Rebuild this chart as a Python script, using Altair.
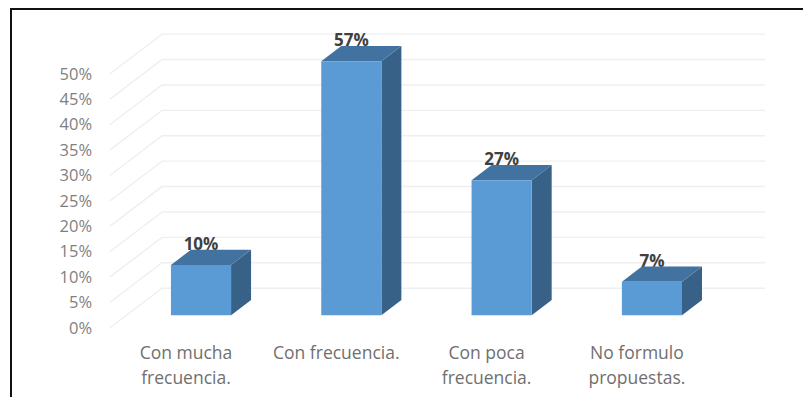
import altair as alt
import pandas as pd

categories = ["Con mucha\nfrecuencia.", "Con frecuencia.", "Con poca\nfrecuencia.", "No formulo\npropuestas."]
values = [9.9, 57.4, 26.6, 6.6]
labels = ["10%", "57%", "27%", "7%"]
ticks = [0, 5, 10, 15, 20, 25, 30, 35, 40, 45, 50]

AXIS_MAX = 50
BAR_W = 0.4
DX = 0.133
DY = 3.01
BASE = 2.44
FONT = "Open Sans"

xs = alt.Scale(domain=[-1.284, 4.005], nice=False, zero=False)
ys = alt.Scale(domain=[-13.64, 62.93], nice=False, zero=False)
X = lambda f="x": alt.X(f"{f}:Q", scale=xs, axis=None)
Y = lambda f="y": alt.Y(f"{f}:Q", scale=ys, axis=None)

grid_rows, top_rows, side_rows, front_rows, lab_rows, cat_rows = [], [], [], [], [], []
for t in ticks:
    grid_rows += [dict(t=t, x=-0.605, y=t), dict(t=t, x=-0.259, y=t + 7.78), dict(t=t, x=3.752, y=t + 7.78)]
for i, (c, v, l) in enumerate(zip(categories, values, labels)):
    h = min(v, AXIS_MAX)
    a, b = i - BAR_W / 2, i + BAR_W / 2
    front_rows.append(dict(x=a, x2=b, y=BASE, y2=BASE + h))
    top = BASE + h
    top_rows += [
        dict(i=i, x=a, y=top, y2=top),
        dict(i=i, x=a + DX, y=top + DY, y2=top),
        dict(i=i, x=b, y=top + DY, y2=top),
        dict(i=i, x=b + DX, y=top + DY, y2=top + DY),
    ]
    side_rows += [dict(i=i, x=b, y=top, y2=BASE), dict(i=i, x=b + DX, y=top + DY, y2=BASE + DY)]
    lab_rows.append(dict(x=i, y=top + DY + 0.9, t=l))
    cat_rows.append(dict(x=i - 0.1, y=-5.15, t=c))

grid = alt.Chart(pd.DataFrame(grid_rows)).mark_line(color="#efefef", strokeWidth=1.4).encode(
    x=X(), y=Y(), detail="t:N")
ticktext = alt.Chart(pd.DataFrame({"x": [-0.725] * len(ticks), "y": ticks, "t": [f"{t}%" for t in ticks]})).mark_text(
    align="right", baseline="middle", font=FONT, fontSize=16.5, color="#7f7f7f", dy=1).encode(x=X(), y=Y(), text="t:N")
cattext = alt.Chart(pd.DataFrame(cat_rows)).mark_text(
    align="center", baseline="middle", font=FONT, fontSize=17.5, color="#6f6f6f",
    lineBreak="\n", lineHeight=25).encode(x=X(), y=Y(), text="t:N")
bartext = alt.Chart(pd.DataFrame(lab_rows)).mark_text(
    align="center", baseline="middle", font=FONT, fontSize=17, fontWeight="bold", color="#404040").encode(
    x=X(), y=Y(), text="t:N")
side = alt.Chart(pd.DataFrame(side_rows)).mark_area(color="#376187", opacity=1).encode(
    x=X(), y=Y(), y2="y2:Q", detail="i:N")
topf = alt.Chart(pd.DataFrame(top_rows)).mark_area(color="#4273a0", opacity=1).encode(
    x=X(), y=Y(), y2="y2:Q", detail="i:N")
front = alt.Chart(pd.DataFrame(front_rows)).mark_rect(color="#5b9bd5").encode(
    x=X(), x2="x2:Q", y=Y(), y2="y2:Q")
frame_left = alt.Chart(pd.DataFrame({"a": [0]})).mark_rule(color="#111111", strokeWidth=2).encode(
    x=alt.value(3), y=alt.value(0), y2=alt.value(389))
frame_top = alt.Chart(pd.DataFrame({"a": [0]})).mark_rule(color="#111111", strokeWidth=2).encode(
    y=alt.value(1), x=alt.value(2), x2=alt.value(795))

chart = alt.layer(grid, ticktext, cattext, bartext, side, topf, front, frame_left, frame_top).properties(
    width=795, height=389, padding=0, autosize=alt.AutoSizeParams(type="none"), background="white"
).configure_view(strokeWidth=0)

chart.save("out.html", embed_options={"renderer": "svg", "actions": False})
